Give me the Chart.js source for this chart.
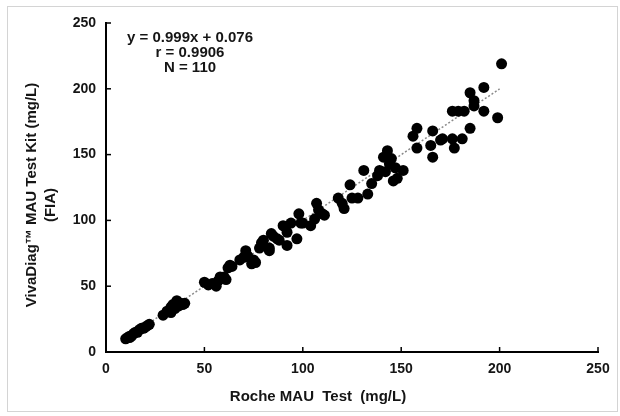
<!DOCTYPE html>
<html>
<head>
<meta charset="utf-8">
<script src="https://cdn.jsdelivr.net/npm/chart.js@4/dist/chart.umd.min.js"></script>
<style>
  html, body { margin: 0; padding: 0; background: #fff; }
  #wrap { width: 620px; height: 416px; }
</style>
</head>
<body>
<div id="wrap"><canvas id="chart" width="620" height="416"></canvas></div>
<script>
// Roche MAU (x) vs VivaDiag MAU (y), mg/L
const rocheX = [
  10, 11, 12, 12, 13, 14, 15, 16, 17, 18, 19, 20, 21, 22,
  29, 31, 33, 33, 34, 35, 36, 36, 37, 38, 39, 40,
  50, 52, 54, 56, 57, 58, 60, 61, 62, 63, 64,
  68, 70, 71, 72, 74, 75, 76, 78, 79, 80, 83, 83, 84, 85, 87, 88, 90, 91, 92, 92, 94, 97, 98, 99, 100,
  104, 106, 107, 108, 110, 111, 118, 120, 121, 124, 125, 128, 131, 133, 135, 138,
  139, 141, 142, 143, 144, 145, 146, 147, 148, 151,
  156, 158, 158, 165, 166, 166, 170, 171, 176, 176, 177, 179, 181, 182, 185, 185, 187, 187, 192, 192, 199, 201
];
const vivaY = [
  10, 11, 12, 11, 12, 14, 15, 15, 17, 18, 18, 19, 20, 21,
  28, 31, 30, 34, 36, 33, 38, 39, 35, 37, 36, 37,
  53, 51, 52, 50, 54, 57, 57, 55, 64, 66, 65,
  70, 72, 77, 73, 67, 70, 68, 79, 83, 85, 77, 79, 90, 88, 86, 85, 96, 95, 91, 81, 98, 86, 105, 98, 98,
  96, 101, 113, 108, 105, 104, 117, 113, 109, 127, 117, 117, 138, 120, 128, 134,
  138, 148, 137, 153, 143, 147, 130, 140, 132, 138,
  164, 170, 155, 157, 168, 148, 161, 162, 162, 183, 155, 183, 162, 183, 170, 197, 191, 187, 201, 183, 178, 219
];

// dotted regression line y = 0.999x + 0.076, over the measured range
const trendX = [10, 200];
const trendY = [10.1, 199.9];

const xTicks = [0, 50, 100, 150, 200, 250];
const yTicks = [0, 50, 100, 150, 200, 250];

const statLines = ["y = 0.999x + 0.076", "r = 0.9906", "N = 110"];
const xTitle = "Roche MAU  Test  (mg/L)";
const yTitle = ["VivaDiag\u2122 MAU Test Kit (mg/L)", "(FIA)"];

const FONT = "'Liberation Sans', Arial, sans-serif";
const INK = "#151515";

const scatterPts = rocheX.map((x, i) => ({ x: x, y: vivaY[i] }));
const trendPts = trendX.map((x, i) => ({ x: x, y: trendY[i] }));

// frame, inner tick marks and the hand-placed texts
const extras = {
  id: "extras",
  beforeDraw(chart) {
    const ctx = chart.ctx;
    ctx.save();
    ctx.fillStyle = "#fff";
    ctx.fillRect(0, 0, chart.width, chart.height);
    ctx.strokeStyle = "#d4d4d4";
    ctx.lineWidth = 1;
    ctx.strokeRect(7.5, 6.5, 610, 405);
    ctx.restore();
  },
  afterDraw(chart) {
    const ctx = chart.ctx;
    const xs = chart.scales.x, ys = chart.scales.y;
    const a = chart.chartArea;
    ctx.save();
    ctx.strokeStyle = "#000";
    ctx.lineWidth = 1.5;
    xTicks.forEach(v => {
      const px = xs.getPixelForValue(v);
      ctx.beginPath(); ctx.moveTo(px, a.bottom); ctx.lineTo(px, a.bottom - 5); ctx.stroke();
    });
    yTicks.forEach(v => {
      const py = ys.getPixelForValue(v);
      ctx.beginPath(); ctx.moveTo(a.left, py); ctx.lineTo(a.left + 5, py); ctx.stroke();
    });

    ctx.fillStyle = INK;
    ctx.textAlign = "center";
    ctx.textBaseline = "middle";
    ctx.font = "bold 15px " + FONT;
    statLines.forEach((s, i) => ctx.fillText(s, 190, 38 + i * 15));

    ctx.fillText(xTitle, 318, 397);

    ctx.translate(32, 195);
    ctx.rotate(-Math.PI / 2);
    ctx.fillText(yTitle[0], 0, 0);
    ctx.fillText(yTitle[1], -10, 19);
    ctx.restore();
  }
};

new Chart(document.getElementById("chart"), {
  type: "scatter",
  data: {
    datasets: [
      {
        data: scatterPts,
        backgroundColor: "#000",
        borderWidth: 0,
        pointRadius: 5.5,
        order: 1
      },
      {
        type: "line",
        data: trendPts,
        borderColor: "#8a8a8a",
        borderWidth: 1.5,
        borderDash: [2, 2],
        pointRadius: 0,
        fill: false,
        order: 2
      }
    ]
  },
  options: {
    responsive: false,
    animation: false,
    events: [],
    layout: { padding: { left: 0, top: 23, right: 22, bottom: 0 } },
    plugins: { legend: { display: false }, tooltip: { enabled: false } },
    scales: {
      x: {
        type: "linear",
        min: 0, max: 250,
        afterFit(s) { s.height = 64; },
        afterBuildTicks(s) { s.ticks = xTicks.map(v => ({ value: v })); },
        grid: { display: false, drawTicks: false },
        border: { display: true, color: "#000", width: 2 },
        ticks: { padding: 9, color: INK, font: { family: FONT, size: 14, weight: "bold" }, maxRotation: 0 }
      },
      y: {
        type: "linear",
        min: 0, max: 250,
        afterFit(s) { s.width = 106; },
        afterBuildTicks(s) { s.ticks = yTicks.map(v => ({ value: v })); },
        grid: { display: false, drawTicks: false },
        border: { display: true, color: "#000", width: 2 },
        ticks: { padding: 10, color: INK, font: { family: FONT, size: 14, weight: "bold" } }
      }
    }
  },
  plugins: [extras]
});
</script>
</body>
</html>
